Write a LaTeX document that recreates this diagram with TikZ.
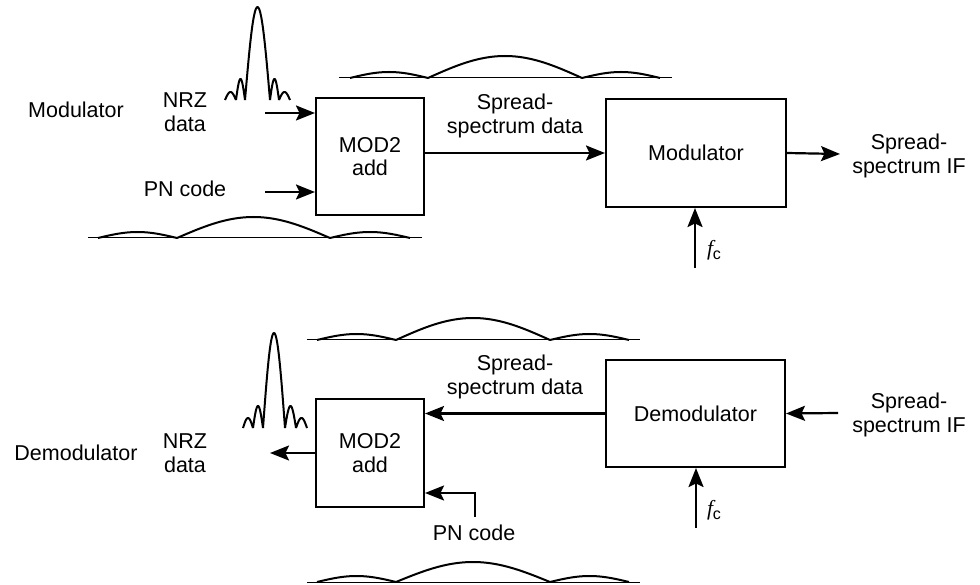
\documentclass[tikz,border=0pt]{standalone}
\usepackage{fontspec}
\setmainfont{Liberation Sans}
\newfontfamily\serifit{Liberation Serif}
\usetikzlibrary{arrows.meta}
\def\myarch#1#2#3#4{plot[domain=0:180,samples=31,smooth] ({#1+\x/180*(#2-#1)},{#3-#4*sin(\x)})}
\tikzset{
  blk/.style={draw,line width=2pt,inner sep=0pt,align=center},
  lbl/.style={inner sep=0pt,align=center},
  arr/.style={line width=2.2pt,-{Stealth[length=19pt,width=15pt,inset=3.5pt]}},
  curve/.style={line width=2pt,line join=round},
  base/.style={line width=1pt},
}
\begin{document}
\begin{tikzpicture}[x=1pt,y=-1pt,font=\fontsize{21.5}{23.5}\selectfont]
\useasboundingbox (0,0) rectangle (980,585);
\fill[white] (0,0) rectangle (980,585);

% ---------------- Modulator (top) ----------------
\node[lbl] (modlbl) at (76,110) {Modulator};
\node[lbl] (nrzA) at (185,112) {NRZ\\data};
\node[lbl] (pnAl) at (185,189) {PN code};
\node[blk,minimum width=108,minimum height=117] (mod2a) at (370,156.5) {MOD2\\add};
\node[blk,minimum width=180,minimum height=108] (modbox) at (696,153) {Modulator};
\node[lbl] (ssdA) at (515,116) {Spread-\\spectrum data};
\node[lbl] (ssifA) at (909,156) {Spread-\\spectrum IF};
\node[lbl] (fcA) at (714,250) {{\serifit\itshape f}\raisebox{-4pt}{\fontsize{16}{16}\selectfont c}};

\coordinate (nrzAin) at (265,113);
\coordinate (pnAin) at (265,192);
\coordinate (outA) at (840,154);
\coordinate (fcAin) at (695,268);

\draw[arr] (nrzAin) -- (nrzAin -| mod2a.west);
\draw[arr] (pnAin) -- (pnAin -| mod2a.west);
\draw[arr] (mod2a.east |- modbox) -- (modbox.west);
\draw[arr] (modbox.east) -- (outA);
\draw[arr] (fcAin) -- (fcAin |- modbox.south);

% sinc pulse (top)
\draw[curve] \myarch{225}{236}{100}{8} \myarch{236}{245}{100}{21}
  \myarch{245}{270}{100}{93} \myarch{270}{279}{100}{21} \myarch{279}{290}{100}{8};

% spread spectrum (top)
\draw[base] (339,78) -- (672,78);
\draw[curve] \myarch{350}{428}{78}{6} \myarch{428}{582}{78}{22} \myarch{582}{660}{78}{6};

% PN spectrum (top)
\draw[base] (88,238) -- (422,238);
\draw[curve] \myarch{98}{177}{238}{6} \myarch{177}{330}{238}{21} \myarch{330}{410}{238}{6};

% ---------------- Demodulator (bottom) ----------------
\node[lbl] (demlbl) at (76,453) {Demodulator};
\node[lbl] (nrzB) at (185,453) {NRZ\\data};
\node[blk,minimum width=108,minimum height=108] (mod2b) at (370,453) {MOD2\\add};
\node[blk,minimum width=179,minimum height=107] (dembox) at (695.5,413.5) {Demodulator};
\node[lbl] (ssdB) at (515,377) {Spread-\\spectrum data};
\node[lbl] (ssifB) at (909,415) {Spread-\\spectrum IF};
\node[lbl] (fcB) at (714,510) {{\serifit\itshape f}\raisebox{-4pt}{\fontsize{16}{16}\selectfont c}};
\node[lbl] (pnBl) at (474,533) {PN code};

\coordinate (inB) at (838,413);
\coordinate (fcBin) at (696,528);
\coordinate (outB) at (270,453);
\coordinate (pnBin) at (475,517);
\coordinate (pnBc) at (475,493);

\draw[arr] (inB) -- (dembox.east);
\draw[arr] (fcBin) -- (fcBin |- dembox.south);
\draw[arr] (dembox.west) -- (dembox.west -| mod2b.east);
\draw[arr] (mod2b.west) -- (outB);
\draw[arr,line join=miter] (pnBin) -- (pnBc) -- (pnBc -| mod2b.east);

% sinc pulse (bottom)
\draw[curve] \myarch{243}{253}{428}{10} \myarch{253}{263}{428}{22}
  \myarch{263}{285}{428}{95} \myarch{285}{296}{428}{22} \myarch{296}{307}{428}{10};

% spread spectrum (bottom, upper)
\draw[base] (307,340) -- (640,340);
\draw[curve] \myarch{317}{396}{340}{6} \myarch{396}{550}{340}{22} \myarch{550}{629}{340}{6};

% PN spectrum (bottom, lower)
\draw[base] (307,582) -- (640,582);
\draw[curve] \myarch{317}{396}{582}{6} \myarch{396}{550}{582}{20} \myarch{550}{629}{582}{6};
\end{tikzpicture}
\end{document}
